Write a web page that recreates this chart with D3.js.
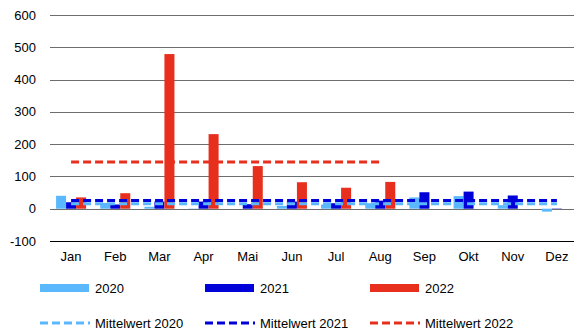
<!DOCTYPE html>
<html>
<head>
<meta charset="utf-8">
<script src="https://cdn.jsdelivr.net/npm/d3@7"></script>
<style>
  html, body { margin: 0; padding: 0; background: #fff; }
  svg { display: block; font-family: "Liberation Sans", Arial, sans-serif; }
</style>
</head>
<body>
<svg id="chart" width="574" height="335"></svg>
<script>
// Monthly values per year
const months = ["Jan", "Feb", "Mar", "Apr", "Mai", "Jun", "Jul", "Aug", "Sep", "Okt", "Nov", "Dez"];
const values2020 = [40, 18, 6, 1, 0, 9, 13, 17, 35, 39, 11, -9];
const values2021 = [20, 13, 22, 22, 14, 22, 17, 25, 51, 53, 41, 1];
const values2022 = [35, 48, 479, 231, 132, 82, 65, 83];
const yTicks = [-100, 0, 100, 200, 300, 400, 500, 600];
const seriesNames = ["2020", "2021", "2022"];
const meanNames = ["Mittelwert 2020", "Mittelwert 2021", "Mittelwert 2022"];
const colors = ["#5bb8ff", "#0000d8", "#e82e1c"];

const mean = arr => d3.mean(arr);
const series = [values2020, values2021, values2022];

const svg = d3.select("#chart");
const W = 574;

const y = d3.scaleLinear().domain([-100, 600]).range([241, 15]);
const x = d3.scaleBand().domain(months).range([49, 579]).paddingInner(0.32).paddingOuter(0.16);
const xs = d3.scaleBand().domain(seriesNames).range([0, x.bandwidth()]);

// Horizontal gridlines
svg.append("g").selectAll("line").data(yTicks).join("line")
  .attr("x1", 50).attr("x2", W)
  .attr("y1", d => Math.round(y(d)) + 0.5).attr("y2", d => Math.round(y(d)) + 0.5)
  .attr("stroke", d => d === -100 ? "#000" : "#6e6e6e").attr("stroke-width", 1);

// Y tick labels
svg.append("g").selectAll("text").data(yTicks).join("text")
  .attr("x", 36).attr("y", d => y(d)).attr("dy", "0.35em")
  .attr("text-anchor", "end").attr("font-size", 13).attr("fill", "#000")
  .text(d => d);

// Month labels
svg.append("g").selectAll("text").data(months).join("text")
  .attr("x", d => x(d) + x.bandwidth() / 2).attr("y", 261)
  .attr("text-anchor", "middle").attr("font-size", 13).attr("fill", "#000")
  .text(d => d);

// Bars
series.forEach((vals, i) => {
  svg.append("g").selectAll("rect").data(vals).join("rect")
    .attr("x", (d, j) => x(months[j]) + xs(seriesNames[i]))
    .attr("width", xs.bandwidth())
    .attr("y", d => y(Math.max(0, d)))
    .attr("height", d => Math.abs(y(d) - y(0)))
    .attr("fill", colors[i]);
});

// Mean lines through the month centres
const line = d3.line().x(d => x(d.m) + x.bandwidth() / 2).y(d => y(d.v));
series.forEach((vals, i) => {
  const m = mean(vals);
  const pts = vals.map((v, j) => ({ m: months[j], v: m }));
  svg.append("path").datum(pts)
    .attr("d", line)
    .attr("fill", "none").attr("stroke", colors[i])
    .attr("stroke-width", 3).attr("stroke-dasharray", "8,4");
});

// Legend
const legX = [40, 205, 370];
seriesNames.forEach((name, i) => {
  svg.append("rect").attr("x", legX[i]).attr("y", 284).attr("width", 49).attr("height", 8).attr("fill", colors[i]);
  svg.append("text").attr("x", legX[i] + 55).attr("y", 288).attr("dy", "0.35em")
    .attr("font-size", 13).attr("fill", "#000").text(name);
});
meanNames.forEach((name, i) => {
  svg.append("line").attr("x1", legX[i]).attr("x2", legX[i] + 50).attr("y1", 323).attr("y2", 323)
    .attr("stroke", colors[i]).attr("stroke-width", 3).attr("stroke-dasharray", "8,4");
  svg.append("text").attr("x", legX[i] + 55).attr("y", 323).attr("dy", "0.35em")
    .attr("font-size", 13).attr("fill", "#000").text(name);
});
</script>
</body>
</html>
